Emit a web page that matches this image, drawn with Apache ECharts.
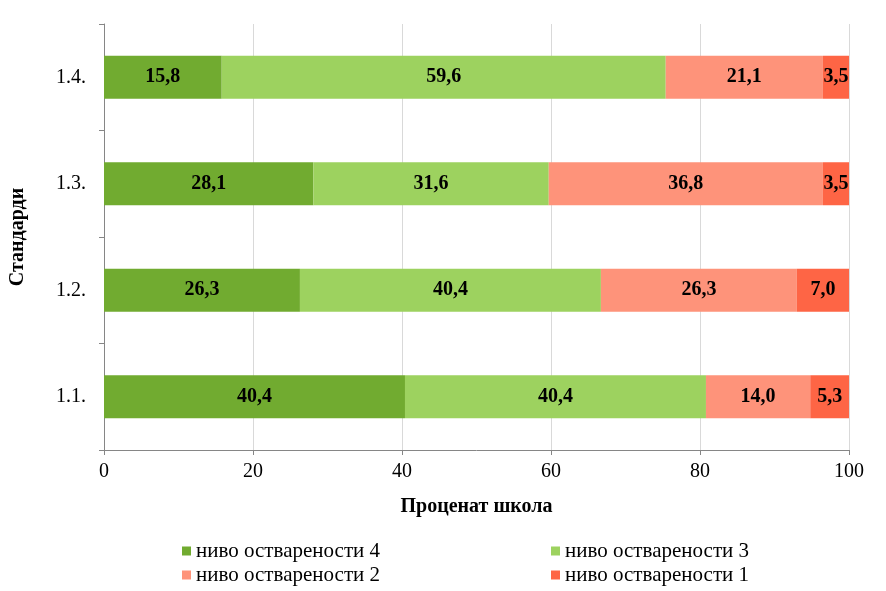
<!DOCTYPE html>
<html><head><meta charset="utf-8">
<script src="https://cdn.jsdelivr.net/npm/echarts@6/dist/echarts.min.js"></script>
<style>html,body{margin:0;padding:0;background:#fff}#c{width:886px;height:591px}</style>
</head><body><div id="c"></div>
<script>
const categories = ['1.1.', '1.2.', '1.3.', '1.4.'];
const level4 = [40.4, 26.3, 28.1, 15.8];
const level3 = [40.4, 40.4, 31.6, 59.6];
const level2 = [14.0, 26.3, 36.8, 21.1];
const level1 = [5.3, 7.0, 3.5, 3.5];
const seriesNames = ['ниво остварености 4', 'ниво остварености 3', 'ниво остварености 2', 'ниво остварености 1'];
const xTicks = [0, 20, 40, 60, 80, 100];

const colors = ['#71AB30', '#9DD25F', '#FE937A', '#FE6545'];
const font = 'Liberation Serif';
const chart = echarts.init(document.getElementById('c'));
const mk = (name, data, color) => ({
  name, type: 'bar', stack: 'a', data, barWidth: 43,
  itemStyle: { color },
  label: { show: true, position: 'inside', fontFamily: font, fontSize: 20, fontWeight: 'bold', color: '#000',
    formatter: p => p.value.toFixed(1).replace('.', ',') }
});
const legendText = { fontFamily: font, fontSize: 21, lineHeight: 22, color: '#000', padding: [0, 0, 0, 0] };
const legendPos = [[182, 540], [551, 540], [182, 564], [551, 564]];
chart.setOption({
  animation: false,
  textStyle: { fontFamily: font },
  grid: { left: 103, right: 37, top: 24, bottom: 141 },
  xAxis: {
    type: 'value', min: 0, max: 100, interval: 20,
    name: 'Проценат школа', nameLocation: 'middle', nameGap: 47,
    nameTextStyle: { fontFamily: font, fontSize: 20, fontWeight: 'bold', color: '#000' },
    axisLine: { show: true, lineStyle: { color: '#868686' } },
    axisTick: { show: true, length: 5, lineStyle: { color: '#868686' } },
    axisLabel: { fontFamily: font, fontSize: 20, color: '#000', margin: 12,
      formatter: v => xTicks.includes(v) ? String(v) : '' },
    splitLine: { show: true, lineStyle: { color: '#d9d9d9' } }
  },
  yAxis: {
    type: 'category', data: categories,
    name: 'Стандарди', nameLocation: 'middle', nameGap: 76,
    nameTextStyle: { fontFamily: font, fontSize: 20, fontWeight: 'bold', color: '#000' },
    axisLine: { show: true, lineStyle: { color: '#868686' } },
    axisTick: { show: true, length: 5, lineStyle: { color: '#868686' } },
    axisLabel: { fontFamily: font, fontSize: 20, color: '#000', margin: 18 }
  },
  legend: seriesNames.map((n, i) => ({
    left: legendPos[i][0], top: legendPos[i][1], itemWidth: 9, itemHeight: 9, itemGap: 5, icon: 'rect',
    data: [n], textStyle: legendText, padding: 0
  })),
  series: [
    mk(seriesNames[0], level4, colors[0]),
    mk(seriesNames[1], level3, colors[1]),
    mk(seriesNames[2], level2, colors[2]),
    mk(seriesNames[3], level1, colors[3])
  ]
});
</script></body></html>
